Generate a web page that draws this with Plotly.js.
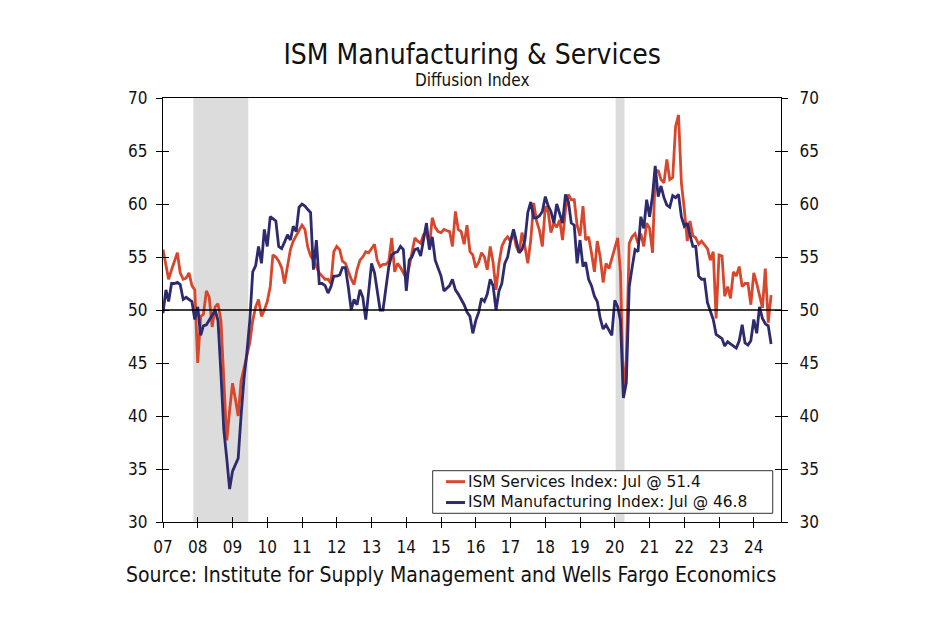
<!DOCTYPE html>
<html>
<head>
<meta charset="utf-8">
<script src="https://cdn.plot.ly/plotly-3.0.1.min.js"></script>
<style>html,body{margin:0;padding:0;background:#ffffff;}#chart{width:950px;height:630px;}</style>
</head>
<body>
<div id="chart"></div>
<script>
// ---- data (monthly, Jan 2007 – Jul 2024) ----
const startYear = 2007;
const servicesIndex = [
  55.7, 54.3, 52.9, 53.8, 54.6, 55.4, 53.5, 52.9, 53.0, 53.5, 52.3, 51.9,
  45.0, 49.4, 49.6, 51.8, 51.2, 48.4, 50.3, 50.6, 49.0, 44.0, 37.7, 40.5,
  43.1, 41.5, 40.0, 43.3, 44.5, 46.0, 46.9, 49.0, 50.3, 51.0, 49.4, 50.0,
  50.8, 52.2, 55.2, 55.0, 54.6, 54.0, 52.5, 54.1, 55.7, 56.5, 57.0, 57.4,
  58.0, 57.6, 56.0, 55.1, 54.7, 54.1, 53.5, 53.2, 52.9, 52.9, 52.5, 55.5,
  56.0, 55.7, 54.6, 54.4, 53.6, 52.9, 52.4, 53.8, 54.7, 55.0, 55.5, 55.4,
  55.8, 56.2, 54.7, 54.1, 54.3, 54.3, 54.6, 56.8, 53.6, 54.4, 54.0, 53.5,
  53.0, 54.1, 55.5, 56.8, 56.5, 56.3, 57.1, 57.3, 56.0, 58.7, 57.8, 57.4,
  57.3, 57.6, 57.5, 57.4, 56.0, 59.3, 57.6, 57.4, 56.2, 58.0, 55.5, 55.2,
  54.0, 54.5, 55.4, 55.0, 53.8, 56.0, 54.5, 51.9, 54.4, 56.0, 56.6, 56.9,
  56.5, 57.3, 56.0, 55.4, 57.3, 56.0, 54.4, 56.6, 60.1, 58.4, 57.5, 56.0,
  59.8, 59.2, 57.3, 58.2, 57.8, 58.5, 56.6, 59.5, 60.9, 60.4, 60.4, 58.0,
  57.0, 59.8, 56.6, 56.9, 55.4, 53.6, 56.5, 55.0, 52.6, 54.4, 53.9, 54.8,
  55.7, 56.8, 53.5, 41.8, 45.4, 56.3, 56.9, 57.2, 56.3, 57.2, 56.0, 58.2,
  57.7, 55.4, 62.9, 63.2, 62.3, 62.0, 64.2, 62.3, 62.5, 67.3, 68.4, 62.0,
  59.5, 56.5, 58.4, 57.0, 56.8, 56.2, 56.5, 56.2, 55.8, 54.7, 55.5, 49.2,
  55.2, 55.1, 51.3, 52.2, 51.1, 53.6, 53.2, 54.1, 52.2, 52.5, 52.5, 50.5,
  53.5, 52.5, 51.4, 50.2, 53.9, 48.8, 51.4
];
const manufacturingIndex = [
  49.7, 51.9, 50.8, 52.5, 52.5, 52.6, 52.4, 51.0, 51.2, 51.0, 50.8, 49.1,
  50.3, 47.6, 48.5, 48.6, 49.0, 49.5, 50.0, 49.0, 44.0, 38.7, 36.0, 33.1,
  34.8, 35.5, 36.0, 40.1, 43.5, 46.0, 49.0, 53.6, 54.2, 56.0, 54.4, 57.6,
  56.0, 58.8, 58.6, 58.4, 56.0, 55.8, 56.4, 57.1, 56.6, 57.9, 57.4, 59.7,
  60.0, 59.8, 59.5, 59.2, 53.8, 56.6, 52.5, 52.5, 52.3, 51.6, 52.2, 53.2,
  53.2, 53.3, 54.0, 54.0, 52.2, 50.0, 51.0, 50.5, 51.9, 51.2, 49.1, 51.9,
  54.4, 53.5, 51.6, 50.0, 50.0, 51.9, 54.1, 55.2, 55.4, 55.5, 56.0, 55.7,
  51.8, 54.7, 55.0, 55.7, 55.8, 55.1, 56.5, 58.2, 55.7, 56.9, 54.7, 54.0,
  53.2, 51.8, 52.0, 52.3, 52.9, 51.9, 51.5, 51.0, 50.5, 49.8, 49.4, 47.8,
  49.0, 49.8, 51.1, 50.8, 51.5, 52.9, 52.3, 50.0, 51.8, 52.5, 54.4, 55.0,
  56.5, 57.6, 56.4, 55.4, 55.7, 56.6, 59.2, 60.2, 58.7, 58.7, 58.9, 59.3,
  60.7, 59.8, 59.3, 58.2, 60.0, 59.0, 58.2, 60.9, 60.2, 58.2, 58.0, 54.4,
  56.6, 54.1, 54.5, 52.9, 52.3, 51.3, 50.8, 49.2, 48.2, 48.6, 48.1, 47.6,
  50.9, 50.3, 49.0, 41.7, 43.1, 52.2, 54.0, 55.7, 55.5, 58.8, 57.7, 60.4,
  58.8, 60.8, 63.6, 60.7, 61.7, 60.6, 59.9, 59.7, 60.8, 60.6, 60.9, 58.8,
  57.9, 58.2, 57.1, 56.0, 56.0, 53.2, 52.9, 52.9, 50.7, 49.9, 49.1, 47.7,
  47.5, 47.3, 46.6, 47.0, 46.8, 46.6, 46.4, 47.1, 48.6, 46.9, 46.7, 47.1,
  49.1, 47.8, 50.3, 49.2, 48.7, 48.5, 46.8
];
const tickYears = [2007,2008,2009,2010,2011,2012,2013,2014,2015,2016,2017,2018,2019,2020,2021,2022,2023,2024];
const tickLabels = ['07','08','09','10','11','12','13','14','15','16','17','18','19','20','21','22','23','24'];
const recessionStart = ['2007-11-16','2020-01-10'];
const recessionEnd = ['2009-06-15','2020-04-12'];
const seriesNames = ['ISM Services Index: Jul @ 51.4','ISM Manufacturing Index: Jul @ 46.8'];
const titleText = 'ISM Manufacturing & Services';
const subtitleText = 'Diffusion Index';
const sourceText = 'Source: Institute for Supply Management and Wells Fargo Economics';

// ---- build ----
function monthDates(n){
  const out = [];
  for (let i = 0; i < n; i++) {
    const y = startYear + Math.floor(i / 12);
    const m = (i % 12) + 1;
    out.push(y + '-' + String(m).padStart(2,'0') + '-01');
  }
  return out;
}
const svcColor = '#D8472B';
const mfgColor = '#2D2A6E';
const condFont = 'DejaVu Sans Condensed, DejaVu Sans, sans-serif';
const tickFont = {family: condFont, size: 17, color: '#111'};
const xRange = ['2007-01-01','2024-10-13'];
const tickVals = tickYears.map(y => y + '-01-01');
const dates = monthDates(manufacturingIndex.length);

const traces = [
  {x: monthDates(servicesIndex.length), y: servicesIndex, type: 'scatter', mode: 'lines',
   name: seriesNames[0], line: {color: svcColor, width: 2.8}, showlegend: false},
  {x: dates, y: manufacturingIndex, type: 'scatter', mode: 'lines',
   name: seriesNames[1], line: {color: mfgColor, width: 2.8}, showlegend: false}
];
// invisible helper traces so the overlay axes (right labels, crossing ticks) are drawn
[['x','y2'], ['x2','y3'], ['x2','y4']].forEach(ax => {
  traces.push({x: dates, y: manufacturingIndex, xaxis: ax[0], yaxis: ax[1], type: 'scatter', mode: 'lines',
    line: {width: 0, color: 'rgba(0,0,0,0)'}, opacity: 0, hoverinfo: 'skip', showlegend: false});
});

const shapes = recessionStart.map((s, i) => ({
  type: 'rect', xref: 'x', yref: 'paper', x0: s, x1: recessionEnd[i], y0: 0, y1: 1,
  fillcolor: '#DCDCDC', line: {width: 0}, layer: 'below'
}));
shapes.push({type: 'line', xref: 'paper', yref: 'y', x0: 0, x1: 1, y0: 50, y1: 50,
  line: {color: '#000', width: 1.3}, layer: 'above'});
// legend box & line samples
shapes.push({type: 'rect', xref: 'paper', yref: 'paper', x0: 0.4364, x1: 0.9866, y0: 0.0205, y1: 0.121,
  fillcolor: '#fff', line: {color: '#333', width: 1}, layer: 'above'});
const legendRowY = [0.0951, 0.0459];
const legendColors = [svcColor, mfgColor];
legendRowY.forEach((yy, i) => {
  shapes.push({type: 'line', xref: 'paper', yref: 'paper', x0: 0.4579, x1: 0.4887, y0: yy, y1: yy,
    line: {color: legendColors[i], width: 3}, layer: 'above'});
});

const annotations = [
  {text: subtitleText, xref: 'paper', yref: 'paper', x: 0.5, y: 1.0425, xanchor: 'center', yanchor: 'middle',
   showarrow: false, font: {family: condFont, size: 17, color: '#111'}},
  {text: sourceText, xref: 'paper', yref: 'paper', x: -0.063, y: -0.125, xanchor: 'left', yanchor: 'middle',
   showarrow: false, font: {family: condFont, size: 21, color: '#111'}},
  {text: seriesNames.join('<br>'), xref: 'paper', yref: 'paper', x: 0.4903, y: 0.0705,
   xanchor: 'left', yanchor: 'middle', align: 'left', showarrow: false,
   font: {family: 'DejaVu Sans, sans-serif', size: 15.4, color: '#111'}}
];

const layout = {
  width: 950, height: 630,
  margin: {l: 163, r: 169, t: 98, b: 108, pad: 0},
  paper_bgcolor: '#fff', plot_bgcolor: 'rgba(0,0,0,0)',
  showlegend: false,
  title: {text: titleText, x: 0.497, xanchor: 'center', xref: 'container', y: 0.914, yanchor: 'middle',
          font: {family: condFont, size: 28, color: '#111'}},
  xaxis: {type: 'date', range: xRange, tickvals: tickVals, ticktext: tickLabels,
          ticks: 'outside', ticklen: 5, tickcolor: '#000', tickwidth: 1,
          showline: true, linecolor: '#000', linewidth: 1.2, mirror: true,
          showgrid: false, zeroline: false, tickfont: tickFont, ticklabelstandoff: 4},
  xaxis2: {type: 'date', range: xRange, overlaying: 'x', tickvals: tickVals, ticktext: tickLabels,
          ticks: 'inside', ticklen: 5, tickcolor: '#000', tickwidth: 1, showticklabels: false,
          showline: false, showgrid: false, zeroline: false, side: 'bottom'},
  yaxis: {range: [30, 70], dtick: 5, tick0: 30, ticks: 'outside', ticklen: 6, tickcolor: '#000',
          showline: true, linecolor: '#000', linewidth: 1.2, showgrid: false, zeroline: false,
          tickfont: tickFont, ticklabelstandoff: 5},
  yaxis2: {range: [30, 70], dtick: 5, tick0: 30, overlaying: 'y', side: 'right', ticks: 'outside', ticklen: 6,
          tickcolor: '#000', showline: true, linecolor: '#000', linewidth: 1.2, showgrid: false,
          zeroline: false, tickfont: tickFont, ticklabelstandoff: 8},
  yaxis3: {range: [30, 70], dtick: 5, tick0: 30, overlaying: 'y', side: 'left', ticks: 'inside', ticklen: 6,
          tickcolor: '#000', showticklabels: false, showline: false, showgrid: false, zeroline: false},
  yaxis4: {range: [30, 70], dtick: 5, tick0: 30, overlaying: 'y', side: 'right', ticks: 'inside', ticklen: 6,
          tickcolor: '#000', showticklabels: false, showline: false, showgrid: false, zeroline: false},
  shapes: shapes,
  annotations: annotations
};

Plotly.newPlot('chart', traces, layout, {staticPlot: true, displayModeBar: false});
</script>
</body>
</html>
